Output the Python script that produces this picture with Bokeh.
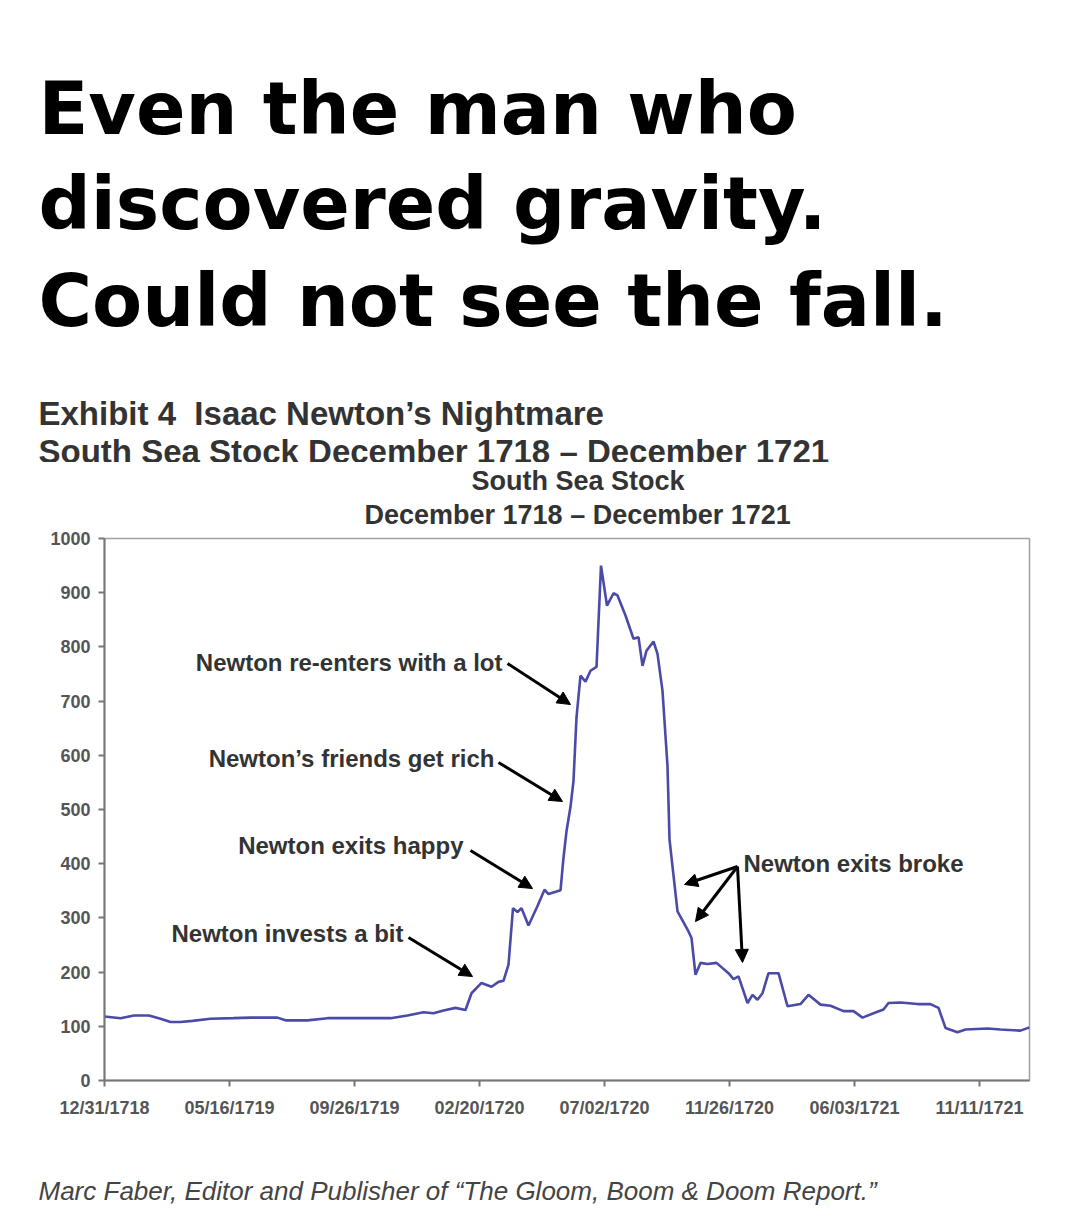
from bokeh.plotting import figure
from bokeh.layouts import column
from bokeh.models import Range1d, FixedTicker, Label, Arrow, NormalHead, Title
from bokeh.core.properties import value
from bokeh.embed import file_html
from bokeh.resources import INLINE

obs_index = [0, 3.2, 5.9, 8.9, 11.2, 13.2, 15.2, 17.6, 21.2, 25.8, 29.2, 34.6, 36.2, 40.6,
             44.6, 49.2, 57.2, 60.6, 63.8, 65.8, 67.8, 70.2, 72.2, 73.4, 75.4, 77.4, 78.8,
             79.8, 80.8, 81.7, 82.6, 83.4, 84.8, 86.6, 88.0, 88.8, 91.2, 91.8, 92.4, 93.2,
             93.8, 94.4, 95.2, 96.2, 97.2, 98.4, 99.3, 100.5, 101.8, 102.6, 104.2, 105.8,
             106.8, 107.6, 108.4, 109.8, 110.6, 111.6, 112.6, 113.0, 114.6, 116.8, 117.4,
             118.2, 119.2, 120.6, 122.4, 124.8, 125.8, 126.8, 128.6, 129.6, 130.6, 131.6,
             132.8, 134.8, 136.6, 139.2, 140.8, 143.2, 145.2, 147.8, 149.8, 151.6, 153.8,
             155.8, 156.8, 159.2, 162.6, 165.2, 166.8, 168.2, 170.6, 172.2, 176.6, 179.2,
             183.2, 185]
price = [118, 115, 120, 120, 114, 108, 108, 110, 114, 115, 116, 116, 111, 111,
         115, 115, 115, 120, 126, 124, 129, 134, 130, 161, 180, 173, 182,
         184, 214, 318, 311, 318, 286, 322, 352, 344, 351, 411, 460, 505,
         553, 670, 747, 736, 756, 763, 950, 876, 899, 895, 858, 815,
         818, 765, 793, 810, 787, 719, 580, 445, 312, 275, 263,
         195, 217, 215, 217, 198, 187, 192, 143, 158, 149, 161,
         198, 198, 137, 141, 158, 140, 138, 128, 128, 116, 124,
         131, 143, 144, 141, 141, 134, 97, 89, 94, 96, 94,
         92, 98]
tick_positions = [0, 25, 50, 75, 100, 125, 150, 175]
tick_labels = ["12/31/1718", "05/16/1719", "09/26/1719", "02/20/1720",
               "07/02/1720", "11/26/1720", "06/03/1721", "11/11/1721"]
y_ticks = [0, 100, 200, 300, 400, 500, 600, 700, 800, 900, 1000]

headline = ["Even the man who", "discovered gravity.", "Could not see the fall."]
exhibit_lines = ["Exhibit 4\u00a0 Isaac Newton\u2019s Nightmare",
                 "South Sea Stock December 1718 \u2013 December 1721"]
chart_title = ["South Sea Stock", "December 1718 \u2013 December 1721"]
caption = "Marc Faber, Editor and Publisher of \u201cThe Gloom, Boom & Doom Report.\u201d"
notes_left = ["Newton re-enters with a lot", "Newton\u2019s friends get rich",
              "Newton exits happy", "Newton invests a bit"]
note_right = "Newton exits broke"

# ---- layout ----
W = 1080
TOP_H = 462          # header panel height (canvas px 0..462)
MAIN_H = 708         # chart panel (canvas px 462..1170)
BOT_H = 62           # caption panel (canvas px 1170..1232)
L, R = 104, 51
FRAME_TOP, FRAME_BOT = 538, 1080
X_MAX = 185
Y_MAX = 1000


def dx(px):
    return (px - L) * X_MAX / (W - L - R)


def dy(py):
    return (FRAME_BOT - py) * Y_MAX / (FRAME_BOT - FRAME_TOP)


def blank_panel(h, y0):
    f = figure(width=W, height=h, x_range=Range1d(0, W), y_range=Range1d(y0 + h, y0),
               output_backend="svg", toolbar_location=None, title=None,
               min_border=0, min_border_left=0, min_border_right=0,
               min_border_top=0, min_border_bottom=0,
               x_axis_type=None, y_axis_type=None)
    f.frame_align = False
    f.outline_line_color = None
    f.xgrid.visible = False
    f.ygrid.visible = False
    f.background_fill_color = "white"
    f.border_fill_color = "white"
    return f


# ---- header panel ----
top = blank_panel(TOP_H, 0)
top.text(x=[38, 38, 38], y=[108, 203, 300], text=headline,
         text_font=value("DejaVu Sans"), text_font_style="bold",
         text_font_size="73px", text_color="black",
         text_baseline="alphabetic", text_align="left")
top.text(x=[38, 38], y=[413, 451], text=exhibit_lines,
         text_font=value("Liberation Sans"), text_font_style="bold",
         text_font_size="33px", text_color="#333333",
         text_baseline="alphabetic", text_align="left")

# ---- chart panel ----
p = figure(width=W, height=MAIN_H, x_range=Range1d(0, X_MAX), y_range=Range1d(0, Y_MAX),
           output_backend="svg", toolbar_location=None, title=None,
           min_border_left=L, min_border_right=R,
           min_border_top=FRAME_TOP - TOP_H,
           min_border_bottom=TOP_H + MAIN_H - FRAME_BOT)
p.frame_align = False
p.background_fill_color = "white"
p.border_fill_color = "white"
p.outline_line_color = "#a0a0a0"
p.outline_line_width = 1.5
p.xgrid.visible = False
p.ygrid.visible = False

# chart titles (closest to the frame first); offsets put their left edges in place
for txt, so, left_px in ((chart_title[1], 18, 364), (chart_title[0], -14, 471)):
    p.add_layout(Title(text=txt, align="left", offset=left_px - L,
                       standoff=so, text_line_height=1.0,
                       text_font="Liberation Sans", text_font_style="bold",
                       text_font_size="27px", text_color="#333333"), "above")

p.line(obs_index, price, line_color="#4a4aa8", line_width=2.6)

p.xaxis.ticker = FixedTicker(ticks=tick_positions)
p.xaxis.major_label_overrides = {t: lab for t, lab in zip(tick_positions, tick_labels)}
p.yaxis.ticker = FixedTicker(ticks=y_ticks)
for ax in (p.xaxis, p.yaxis):
    ax.axis_line_color = "#777777"
    ax.axis_line_width = 2
    ax.major_tick_line_color = "#777777"
    ax.major_tick_line_width = 2
    ax.major_tick_out = 6
    ax.major_tick_in = 0
    ax.minor_tick_line_color = None
    ax.major_label_text_font = "Liberation Sans"
    ax.major_label_text_font_style = "bold"
    ax.major_label_text_color = "#555555"
    ax.major_label_text_font_size = "18px"
p.yaxis.major_label_standoff = 8
p.xaxis.major_label_standoff = 11

note_pos = [(502, 662), (494, 758), (463, 845), (403, 933)]
for txt, (px, py) in zip(notes_left, note_pos):
    p.add_layout(Label(x=dx(px), y=dy(py), text=txt,
                       text_font="Liberation Sans", text_font_style="bold",
                       text_font_size="24px", text_color="#333333",
                       text_baseline="alphabetic", text_align="right"))
p.add_layout(Label(x=dx(743), y=dy(863), text=note_right,
                   text_font="Liberation Sans", text_font_style="bold",
                   text_font_size="24px", text_color="#333333",
                   text_baseline="alphabetic", text_align="left"))

arrows = [((507, 663), (570, 704)), ((498, 762), (562, 801)),
          ((470, 850), (532, 888)), ((408, 937), (472, 976)),
          ((737, 866), (684, 884)), ((737, 866), (695, 921)), ((737, 866), (742, 962))]
for (x0, y0), (x1, y1) in arrows:
    p.add_layout(Arrow(end=NormalHead(size=13, fill_color="black", line_color="black"),
                       x_start=dx(x0), y_start=dy(y0), x_end=dx(x1), y_end=dy(y1),
                       line_color="black", line_width=3))

# ---- caption panel ----
bot = blank_panel(BOT_H, TOP_H + MAIN_H)
bot.text(x=[38], y=[1190], text=[caption],
         text_font=value("Liberation Sans"), text_font_style="italic",
         text_font_size="26px", text_color="#444444",
         text_baseline="alphabetic", text_align="left")

layout = column(top, p, bot, spacing=0)
open("out.html", "w").write(file_html(layout, INLINE))
